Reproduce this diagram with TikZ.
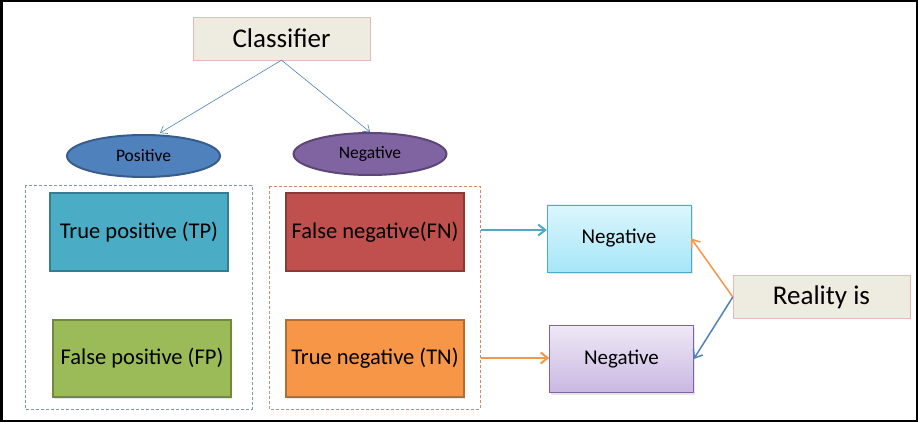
\documentclass[tikz,border=0pt]{standalone}
\usepackage{fontspec}
\setmainfont{Carlito}
\usetikzlibrary{arrows.meta,shapes.geometric,shadows}
\definecolor{tpfill}{HTML}{4BACC6}\definecolor{tpdraw}{HTML}{357D91}
\definecolor{fpfill}{HTML}{9BBB59}\definecolor{fpdraw}{HTML}{71893F}
\definecolor{fnfill}{HTML}{C0504D}\definecolor{fndraw}{HTML}{8C3836}
\definecolor{tnfill}{HTML}{F79646}\definecolor{tndraw}{HTML}{B66D31}
\definecolor{posfill}{HTML}{4F81BD}\definecolor{posdraw}{HTML}{385D8A}
\definecolor{negfill}{HTML}{8064A2}\definecolor{negdraw}{HTML}{5C4776}
\definecolor{beige}{HTML}{EEECE1}\definecolor{pinkline}{HTML}{E6B9B8}
\definecolor{arrblue}{HTML}{4F81BD}\definecolor{arrorange}{HTML}{F79646}
\definecolor{arrcyan}{HTML}{4BACC6}
\definecolor{dashleft}{HTML}{7F9BA0}\definecolor{dashright}{HTML}{D08A6A}
\definecolor{cyantop}{HTML}{DCF6FC}\definecolor{cyanbot}{HTML}{A6E6F8}
\definecolor{purtop}{HTML}{EFE8F6}\definecolor{purbot}{HTML}{C9B8E2}
\tikzset{
  x=1pt,y=-1pt,
  labelbox/.style={draw=pinkline,fill=beige,minimum width=177pt,minimum height=43pt,font=\fontsize{27}{30}\selectfont,inner sep=0pt},
  oval/.style={ellipse,line width=2pt,minimum width=153pt,minimum height=42pt,inner sep=0pt,font=\fontsize{17.5}{20}\selectfont},
  cellbox/.style={line width=2pt,minimum width=178pt,minimum height=77pt,inner sep=0pt,font=\fontsize{22.5}{26}\selectfont,drop shadow={shadow xshift=1pt,shadow yshift=-1.5pt,opacity=0.2}},
  realbox/.style={minimum width=144pt,minimum height=67pt,inner sep=0pt,font=\fontsize{21}{24}\selectfont,drop shadow={shadow xshift=1.5pt,shadow yshift=-2pt,opacity=0.2}},
  thinarrow/.style={draw=arrblue,line width=0.6pt,-{Straight Barb[length=6pt,width=9pt]}},
  thickarrow/.style={line width=2pt,-{Straight Barb[length=7pt,width=11pt,line width=2pt]}},
  grouprect/.style={dashed,line width=0.6pt,dash pattern=on 3pt off 2pt}
}
\begin{document}
\begin{tikzpicture}
\path[use as bounding box] (0,0) rectangle (918,422);
\draw[line width=2.5pt] (1.25,1.25) rectangle (916.75,420.75);

\node[labelbox] (cls) at (281.5,38.5) {Classifier};
\node[oval,fill=posfill,draw=posdraw] (pos) at (143.5,156) {Positive};
\node[oval,fill=negfill,draw=negdraw] (neg) at (370,154) {Negative};

\draw[grouprect,draw=dashleft] (25,185) rectangle (252,409);
\draw[grouprect,draw=dashright] (269,186) rectangle (480,409);

\node[cellbox,fill=tpfill,draw=tpdraw] (tp) at (139,232) {True positive (TP)};
\node[cellbox,fill=fpfill,draw=fpdraw] (fp) at (142,358.5) {False positive (FP)};
\node[cellbox,fill=fnfill,draw=fndraw] (fn) at (375,232) {False negative(FN)};
\node[cellbox,fill=tnfill,draw=tndraw] (tn) at (375,358.5) {True negative (TN)};

\node[realbox,draw=arrcyan,top color=cyantop,bottom color=cyanbot] (ntop) at (619,238.5) {Negative};
\node[realbox,draw=negfill,top color=purtop,bottom color=purbot] (nbot) at (621.5,359) {Negative};
\node[labelbox] (real) at (821.5,297) {Reality is};

\coordinate (fnout) at (481,230);
\coordinate (tnout) at (481,358);

\draw[thinarrow] (cls.south) -- (160,133);
\draw[thinarrow] (cls.south) -- (neg.north);
\draw[thickarrow,draw=arrcyan] (fnout) -- (ntop.west |- fnout);
\draw[thickarrow,draw=arrorange] (tnout) -- (nbot.west |- tnout);
\draw[line width=1.5pt,draw=arrorange,-{Straight Barb[length=7pt,width=11pt,line width=1.5pt]}] (real.west) -- (ntop.east);
\draw[line width=1.5pt,draw=arrblue,-{Straight Barb[length=7pt,width=11pt,line width=1.5pt]}] (real.west) -- (nbot.east);
\end{tikzpicture}
\end{document}
